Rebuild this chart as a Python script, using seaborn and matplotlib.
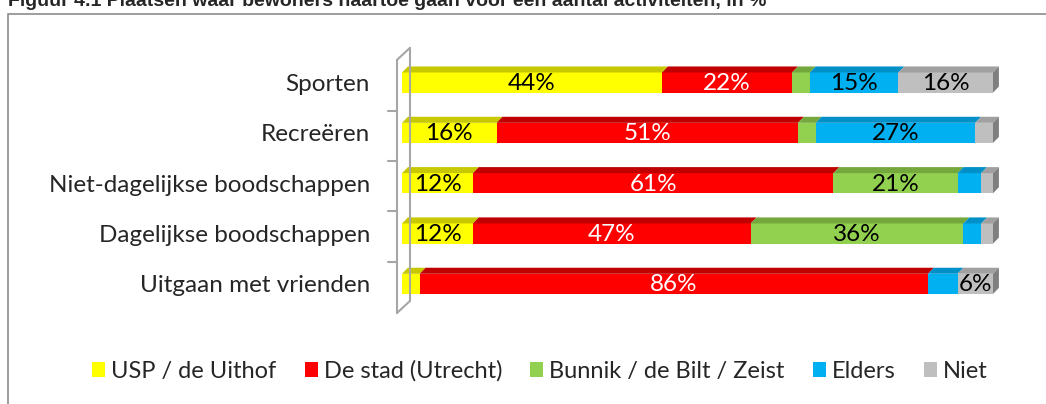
import numpy as np
import pandas as pd
import matplotlib
matplotlib.use("Agg")
import matplotlib.pyplot as plt
from matplotlib.patches import Polygon, Rectangle, Patch
from matplotlib.lines import Line2D
import seaborn as sns

# data (percentages)
activities = ["Sporten", "Recreëren", "Niet-dagelijkse boodschappen",
              "Dagelijkse boodschappen", "Uitgaan met vrienden"]
series_names = ["USP / de Uithof", "De stad (Utrecht)", "Bunnik / de Bilt / Zeist",
                "Elders", "Niet"]
usp = [44, 16, 12, 12, 3]
stad = [22, 51, 61, 47, 86]
bunnik = [3, 3, 21, 36, 0]
elders = [15, 27, 4, 3, 5]
niet = [16, 3, 2, 2, 6]

colors = ["#FFFF00", "#FF0000", "#92D050", "#00B0F0", "#BFBFBF"]
top_colors = ["#C8C800", "#C00000", "#74A83C", "#0090C8", "#A0A0A0"]
label_colors = ["black", "white", "black", "black", "black"]

sns.set_theme(style="white")
plt.rcParams["font.family"] = ["Lato", "DejaVu Sans"]

values = np.array([usp, stad, bunnik, elders, niet], dtype=float)
cum = np.cumsum(values, axis=0)
df = pd.DataFrame({"activity": activities})
for j, name in enumerate(series_names):
    df[name] = cum[j]

fig = plt.figure(figsize=(10.46, 4.04), dpi=100)
ax = fig.add_axes([402 / 1046, 1 - 309 / 404, 591 / 1046, 251.6 / 404])

bar_h = 0.4
# draw cumulative bars back to front so they look stacked
for j in range(len(series_names) - 1, -1, -1):
    sns.barplot(data=df, x=series_names[j], y="activity", orient="h",
                color=colors[j], saturation=1, width=bar_h, linewidth=0, ax=ax)

# fake 3D top faces and end caps
dx, dy = 1.0, 0.12
for i in range(len(activities)):
    ytop = i - bar_h / 2
    left = 0.0
    for j in range(len(series_names)):
        right = cum[j, i]
        if right > left:
            ax.add_patch(Polygon([(left, ytop), (right, ytop), (right + dx, ytop - dy),
                                  (left + dx, ytop - dy)], closed=True,
                                 facecolor=top_colors[j], edgecolor="none", clip_on=False))
        left = right
    total = cum[-1, i]
    ax.add_patch(Polygon([(total, ytop), (total + dx, ytop - dy),
                          (total + dx, ytop + bar_h - dy), (total, ytop + bar_h)],
                         closed=True, facecolor="#7F7F7F", edgecolor="none", clip_on=False))
    # value labels
    left = 0.0
    for j in range(len(series_names)):
        v = values[j, i]
        if v >= 6:
            ax.text(left + v / 2, i + 0.02, f"{int(v)}%", ha="center", va="center",
                    fontsize=17.5, color=label_colors[j])
        left += v

# 3D wall outline on the left
wall = dict(color="#A6A6A6", lw=1.5, clip_on=False)
xf, xb = -0.85, 1.35
ax.add_line(Line2D([xf, xf], [-0.45, 4.58], **wall))
ax.add_line(Line2D([xb, xb], [-0.69, 4.34], **wall))
ax.add_line(Line2D([xf, xb], [-0.45, -0.69], **wall))
ax.add_line(Line2D([xf, xb], [4.58, 4.34], **wall))
for b in [0.56, 1.56, 2.56, 3.56]:
    ax.add_line(Line2D([xf - 1.5, xf], [b, b], **wall))

ax.set_xlim(0, 100)
ax.set_ylim(4.5, -0.5)
ax.set_xlabel("")
ax.set_ylabel("")
ax.set_xticks([])
ax.tick_params(axis="y", length=0, pad=23, labelsize=17.5)
for s in ax.spines.values():
    s.set_visible(False)

# legend
handles = [Patch(facecolor=c, edgecolor="none") for c in colors]
fig.legend(handles, series_names, loc="center", bbox_to_anchor=(540 / 1046, 1 - 371 / 404),
           ncol=5, frameon=False, fontsize=17, handlelength=0.55, handleheight=0.55,
           handletextpad=0.25, columnspacing=1.2)

# outer frame (runs past the right edge) and cut-off title
fig.patches.append(Rectangle((8 / 1046, -0.01), 1.0, 1 - 14 / 404 + 0.01,
                             transform=fig.transFigure, fill=False,
                             edgecolor="#8C8C8C", lw=1.2))
fig.text(8 / 1046, 1 - 6 / 404,
         "Figuur 4.1 Plaatsen waar bewoners naartoe gaan voor een aantal activiteiten, in %",
         ha="left", va="baseline", fontsize=14, fontweight="bold",
         family=["Liberation Sans", "DejaVu Sans"])

fig.savefig("out.png", dpi=100)
